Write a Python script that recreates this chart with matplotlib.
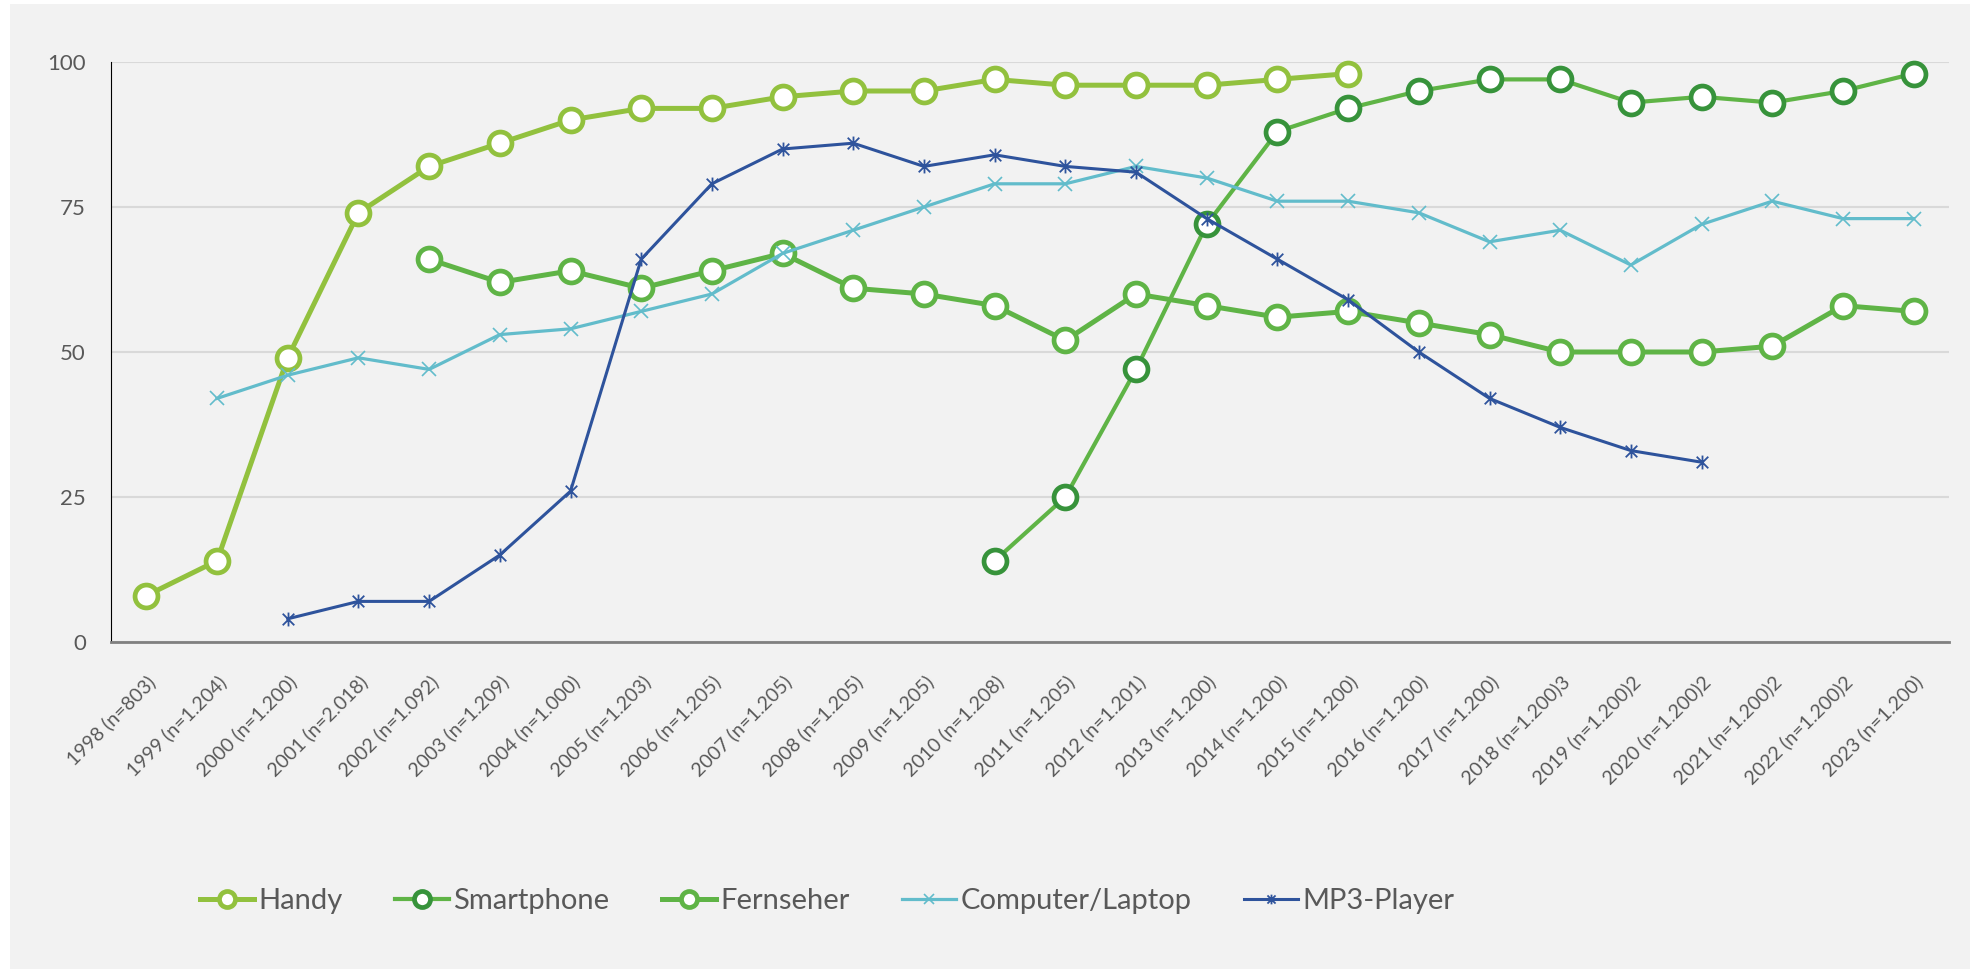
import numpy as np
import matplotlib
matplotlib.use("Agg")
import matplotlib.pyplot as plt
from matplotlib.patches import Rectangle
from matplotlib.path import Path

plt.rcParams['font.family'] = ['Lato', 'DejaVu Sans']

# survey years with sample sizes
years = ["1998 (n=803)", "1999 (n=1.204)", "2000 (n=1.200)", "2001 (n=2.018)",
         "2002 (n=1.092)", "2003 (n=1.209)", "2004 (n=1.000)", "2005 (n=1.203)",
         "2006 (n=1.205)", "2007 (n=1.205)", "2008 (n=1.205)", "2009 (n=1.205)",
         "2010 (n=1.208)", "2011 (n=1.205)", "2012 (n=1.201)", "2013 (n=1.200)",
         "2014 (n=1.200)", "2015 (n=1.200)", "2016 (n=1.200)", "2017 (n=1.200)",
         "2018 (n=1.200)3", "2019 (n=1.200)2", "2020 (n=1.200)2", "2021 (n=1.200)2",
         "2022 (n=1.200)2", "2023 (n=1.200)"]

handy = [8, 14, 49, 74, 82, 86, 90, 92, 92, 94, 95, 95, 97, 96, 96, 96, 97, 98,
         None, None, None, None, None, None, None, None]
smartphone = [None] * 12 + [14, 25, 47, 72, 88, 92, 95, 97, 97, 93, 94, 93, 95, 98]
fernseher = [None, None, None, None, 66, 62, 64, 61, 64, 67, 61, 60, 58, 52, 60, 58,
             56, 57, 55, 53, 50, 50, 50, 51, 58, 57]
computer = [None, 42, 46, 49, 47, 53, 54, 57, 60, 67, 71, 75, 79, 79, 82, 80, 76, 76,
            74, 69, 71, 65, 72, 76, 73, 73]
mp3 = [None, None, 4, 7, 7, 15, 26, 66, 79, 85, 86, 82, 84, 82, 81, 73, 66, 59, 50,
       42, 37, 33, 31, None, None, None]


def arr(vals):
    return np.array([np.nan if v is None else v for v in vals], dtype=float)


# Excel-style star marker: an X with a vertical bar
star = Path([(-1, -1), (1, 1), (-1, 1), (1, -1), (0, -1.2), (0, 1.2)],
            [Path.MOVETO, Path.LINETO, Path.MOVETO, Path.LINETO, Path.MOVETO, Path.LINETO])

fig = plt.figure(figsize=(19.72, 9.69), dpi=100, facecolor='white')
fig.patches.append(Rectangle((10 / 1972, 0), 1960 / 1972, 965 / 969,
                             transform=fig.transFigure, facecolor='#f2f2f2',
                             edgecolor='none', zorder=-10))

ax = fig.add_axes([111 / 1972, 1 - 642 / 969, (1949 - 111) / 1972, (642 - 62) / 969])
ax.set_facecolor('none')

x = np.arange(len(years))
circ = dict(marker='o', markersize=16.5, markerfacecolor='white', markeredgewidth=3.4,
            clip_on=False)

ax.plot(x, arr(handy), color='#92c13e', lw=3.6, markeredgecolor='#92c13e',
        label='Handy', **circ)
ax.plot(x, arr(smartphone), color='#5fb446', lw=3.0, markeredgecolor='#37933b',
        label='Smartphone', **circ)
ax.plot(x, arr(fernseher), color='#5fb446', lw=3.6, markeredgecolor='#5fb446',
        label='Fernseher', **circ)
ax.plot(x, arr(computer), color='#62bccb', lw=2.3, marker='x', markersize=10,
        markeredgewidth=1.2, label='Computer/Laptop', clip_on=False)
ax.plot(x, arr(mp3), color='#2e539c', lw=2.2, marker=star, markersize=10,
        markeredgewidth=1.3, label='MP3-Player', clip_on=False)

ax.set_xlim(-0.5, len(years) - 0.5)
ax.set_ylim(0, 100)
ax.set_yticks([0, 25, 50, 75, 100])
ax.set_xticks(x)
ax.set_xticklabels(years, rotation=45, ha='right', va='top', rotation_mode='anchor')

ax.grid(axis='y', color='#d9d9d9', lw=1.5)
ax.set_axisbelow(True)
for s in ['top', 'right']:
    ax.spines[s].set_visible(False)
ax.spines['left'].set_color('black')
ax.spines['left'].set_linewidth(0.8)
ax.spines['bottom'].set_color('#808080')
ax.spines['bottom'].set_linewidth(2)

ax.tick_params(axis='y', length=0, pad=18, labelsize=16, labelcolor='#595959')
ax.tick_params(axis='x', length=0, pad=22, labelsize=14, labelcolor='#595959')

fig.legend(loc='center left', bbox_to_anchor=(200 / 1972, 1 - 901 / 969), ncol=5,
           frameon=False, fontsize=21, labelcolor='#595959', handlelength=1.85,
           handletextpad=0.15, columnspacing=1.8, borderpad=0, borderaxespad=0,
           markerscale=0.7)

fig.savefig('out.png', dpi=100, facecolor='white')
